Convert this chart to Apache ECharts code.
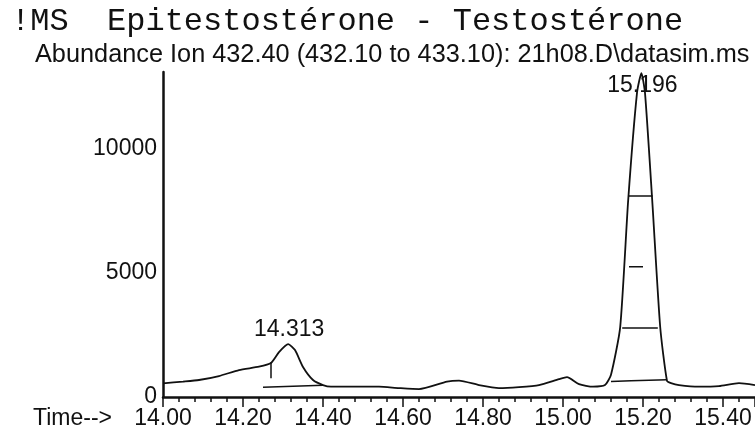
<!DOCTYPE html>
<html>
<head>
<meta charset="utf-8">
<script src="https://cdn.jsdelivr.net/npm/echarts@6/dist/echarts.min.js"></script>
<style>
  html, body { margin: 0; padding: 0; background: #fff; }
  #chart { width: 755px; height: 441px; }
</style>
</head>
<body>
<div id="chart"></div>
<script>
// ion trace, time (min) vs abundance
const times = [14.00, 14.05, 14.09, 14.14, 14.19, 14.24, 14.27, 14.29, 14.313, 14.33, 14.35, 14.375, 14.40, 14.42, 14.48,
  14.54, 14.59, 14.64, 14.71, 14.74, 14.79, 14.84, 14.89, 14.94, 14.99, 15.01, 15.04, 15.075, 15.105,
  15.12, 15.143, 15.163, 15.185, 15.196, 15.205, 15.223, 15.243, 15.26, 15.27, 15.29, 15.34, 15.39, 15.44, 15.48]
const abundance = [550, 620, 685, 845, 1085, 1220, 1370, 1810, 2130, 1890, 1210, 685, 480, 415, 420,
  415, 360, 320, 620, 660, 480, 360, 400, 480, 720, 800, 520, 415, 480,
  900, 2820, 7940, 12260, 13050, 12260, 7940, 2820, 650, 560, 480, 415, 440, 560, 480]

// peak apex labels
const peakTimes = [14.313, 15.196]
const peakHeights = [2130, 13050]

// integration marks drawn by the data system (baselines, widths, start tick)
const markSegments = [
  [[14.25, 390], [14.40, 470]],
  [[14.27, 1400], [14.27, 760]],
  [[15.12, 620], [15.17, 660], [15.26, 700]],
  [[15.148, 2780], [15.237, 2780]],
  [[15.165, 5250], [15.200, 5250]],
  [[15.163, 8100], [15.224, 8100]]
]

const yTicks = [0, 5000, 10000]

const ink = '#111'
const sans = 'Liberation Sans'

let chart = echarts.init(document.getElementById('chart'))

let markSeries = markSegments.map(seg => ({
  type: 'line',
  data: seg,
  symbol: 'none',
  silent: true,
  lineStyle: { color: ink, width: 1.5 }
}))

let option = {
  animation: false,
  title: [
    {
      text: '!MS  Epitestostérone - Testostérone',
      left: 6,
      top: 1,
      textStyle: { fontFamily: 'Liberation Mono', fontSize: 32, fontWeight: 'normal', color: ink }
    },
    {
      text: 'Abundance Ion 432.40 (432.10 to 433.10): 21h08.D\\datasim.ms',
      left: 30,
      top: 38,
      textStyle: { fontFamily: sans, fontSize: 25.3, fontWeight: 'normal', color: ink }
    }
  ],
  graphic: [
    {
      type: 'text',
      left: 33,
      top: 407,
      style: { text: 'Time-->', font: '23px "Liberation Sans"', fill: ink }
    }
  ],
  grid: { left: 163, right: 0, top: 72, bottom: 44 },
  xAxis: {
    type: 'value',
    min: 14,
    max: 15.48,
    interval: 0.2,
    splitLine: { show: false },
    axisLine: { show: true, lineStyle: { color: ink, width: 2.5 } },
    axisTick: { show: true, length: 10, lineStyle: { color: ink, width: 1.5 } },
    minorTick: { show: true, splitNumber: 5, length: 5, lineStyle: { color: ink, width: 1.5 } },
    axisLabel: {
      margin: 10,
      showMaxLabel: false,
      fontFamily: sans,
      fontSize: 23,
      color: ink,
      formatter: v => v.toFixed(2)
    }
  },
  yAxis: {
    type: 'value',
    min: 0,
    max: 13100,
    interval: 5000,
    splitLine: { show: false },
    axisLine: { show: true, lineStyle: { color: ink, width: 2.5 } },
    axisTick: { show: false },
    axisLabel: {
      margin: 6,
      showMaxLabel: false,
      fontFamily: sans,
      fontSize: 23,
      color: ink,
      formatter: v => (yTicks.indexOf(v) >= 0 ? String(v) : '')
    }
  },
  series: [
    {
      type: 'line',
      data: times.map((t, i) => [t, abundance[i]]),
      symbol: 'none',
      smooth: 0.2,
      lineStyle: { color: ink, width: 1.8 },
      markPoint: {
        symbol: 'circle',
        symbolSize: 1,
        itemStyle: { color: 'rgba(0,0,0,0)' },
        label: {
          show: true,
          position: 'inside',
          fontFamily: sans,
          fontSize: 23,
          color: ink,
          formatter: p => p.value.toFixed(3)
        },
        data: peakTimes.map((t, i) => ({
          coord: [t, peakHeights[i]],
          value: t,
          label: { offset: i === 0 ? [1, -15] : [1, 12] }
        }))
      }
    },
    ...markSeries
  ]
}

chart.setOption(option)
</script>
</body>
</html>
